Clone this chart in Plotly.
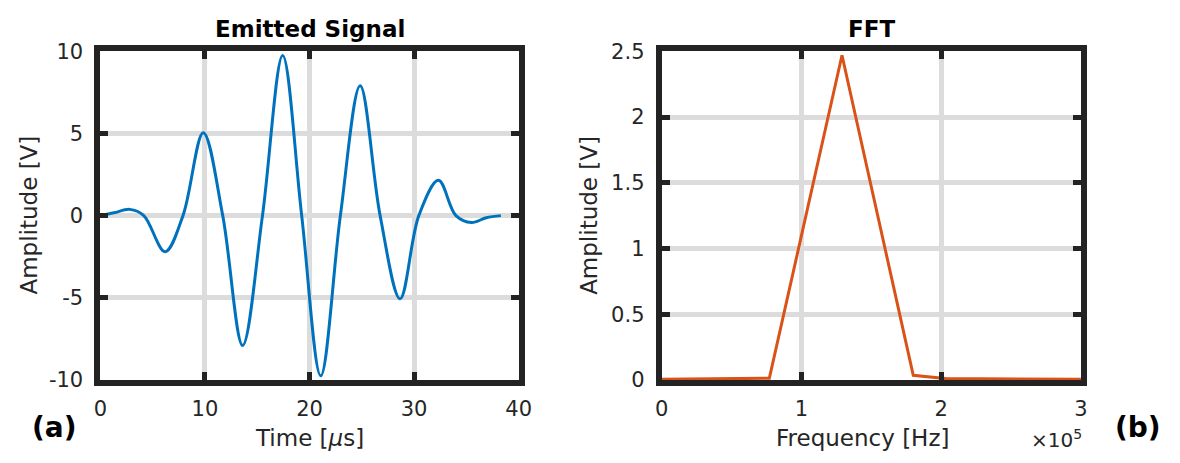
import plotly.graph_objects as go

# ---- data ----
time_us = [0.0, 1.3, 2.81, 4.15, 6.19, 7.9, 9.84, 11.7, 13.6, 15.5, 17.43, 19.25,
           21.07, 22.95, 24.84, 26.75, 28.66, 30.45, 32.33, 34.0, 35.5, 36.9, 38.3]
signal_v = [0.0, 0.17, 0.38, 0.0, -2.2, 0.0, 5.05, 0.0, -7.9, 0.0, 9.75, 0.0,
            -9.75, 0.0, 7.9, 0.0, -5.06, 0.0, 2.15, 0.0, -0.42, -0.13, 0.0]

freq_hz = [0.0, 0.77e5, 1.29e5, 1.80e5, 2.03e5, 3.0e5]
fft_amp = [0.005, 0.012, 2.47, 0.035, 0.01, 0.005]

x1_ticks = [0, 10, 20, 30, 40]
y1_ticks = [-10, -5, 0, 5, 10]
y1_ticktext = ["-10", "-5", "0", "5", "10"]
x2_ticks = [0, 1e5, 2e5, 3e5]
x2_ticktext = ["0", "1", "2", "3"]
y2_ticks = [0, 0.5, 1, 1.5, 2, 2.5]
y2_ticktext = ["0", "0.5", "1", "1.5", "2", "2.5"]

W, H = 1180, 463
FONT = "DejaVu Sans, Liberation Sans, sans-serif"
TXT = "#262626"
GRID = "#dcdcdc"
FRAME = "#232323"

fig = go.Figure()
fig.add_trace(go.Scatter(x=time_us, y=signal_v, mode="lines",
                         line=dict(color="#0072BD", width=3, shape="spline", smoothing=1.0),
                         xaxis="x", yaxis="y", showlegend=False))
fig.add_trace(go.Scatter(x=freq_hz, y=fft_amp, mode="lines",
                         line=dict(color="#D95319", width=3),
                         xaxis="x2", yaxis="y2", showlegend=False))

# plot-area edges in px (inner edge of the thick frame)
L1, R1 = 95, 520.5
L2, R2 = 666, 1092.5
T, B = 41.5, 388

common = dict(showline=True, linewidth=6, linecolor=FRAME, mirror="ticks",
              ticks="inside", ticklen=8, tickwidth=5, tickcolor=FRAME,
              showgrid=True, gridcolor=GRID, gridwidth=5, zeroline=False,
              tickfont=dict(family=FONT, size=21, color=TXT))

fig.update_layout(
    width=W, height=H,
    margin=dict(l=0, r=0, t=0, b=0),
    paper_bgcolor="white", plot_bgcolor="white",
    font=dict(family=FONT, color=TXT),
    xaxis=dict(domain=[L1 / W, R1 / W], anchor="y", range=[0, 40], tickvals=x1_ticks,
               ticklabelstandoff=5, **common),
    yaxis=dict(domain=[1 - B / H, 1 - T / H], anchor="x", range=[-10, 10], tickvals=y1_ticks,
               ticktext=y1_ticktext, ticklabelstandoff=7, **common),
    xaxis2=dict(domain=[L2 / W, R2 / W], anchor="y2", range=[0, 3e5], tickvals=x2_ticks,
                ticktext=x2_ticktext, ticklabelstandoff=5, **common),
    yaxis2=dict(domain=[1 - B / H, 1 - T / H], anchor="x2", range=[0, 2.5], tickvals=y2_ticks,
                ticktext=y2_ticktext, ticklabelstandoff=7, **common),
)

ttl = dict(size=23, family=FONT, color="#000")
lab = dict(size=23, family=FONT, color=TXT)
ann = [
    dict(text="<b>Emitted Signal</b>", x=(L1 + R1) / 2 / W, y=1 - 18 / H, font=ttl),
    dict(text="<b>FFT</b>", x=(L2 + R2) / 2 / W, y=1 - 18 / H, font=ttl),
    dict(text="Time [<i>μ</i>s]", x=(L1 + R1) / 2 / W, y=1 - 449 / H, font=lab),
    dict(text="Frequency [Hz]", x=870 / W, y=1 - 449 / H, font=lab),
    dict(text="Amplitude [V]", x=22 / W, y=1 - 214 / H, font=lab, textangle=-90),
    dict(text="Amplitude [V]", x=592 / W, y=1 - 214 / H, font=lab, textangle=-90),
    dict(text="<b>(a)</b>", x=48 / W, y=1 - 438 / H, font=dict(size=28, family=FONT, color="#000")),
    dict(text="<b>(b)</b>", x=1150 / W, y=1 - 438 / H, font=dict(size=28, family=FONT, color="#000")),
    dict(text="×10<sup>5</sup>", x=1096 / W, y=1 - 450 / H, xanchor="right",
         font=dict(size=20, family=FONT, color=TXT)),
]
for a in ann:
    a.setdefault("xanchor", "center")
    a.update(xref="paper", yref="paper", yanchor="middle", showarrow=False)
fig.update_layout(annotations=ann)

fig.write_html("out.html")
